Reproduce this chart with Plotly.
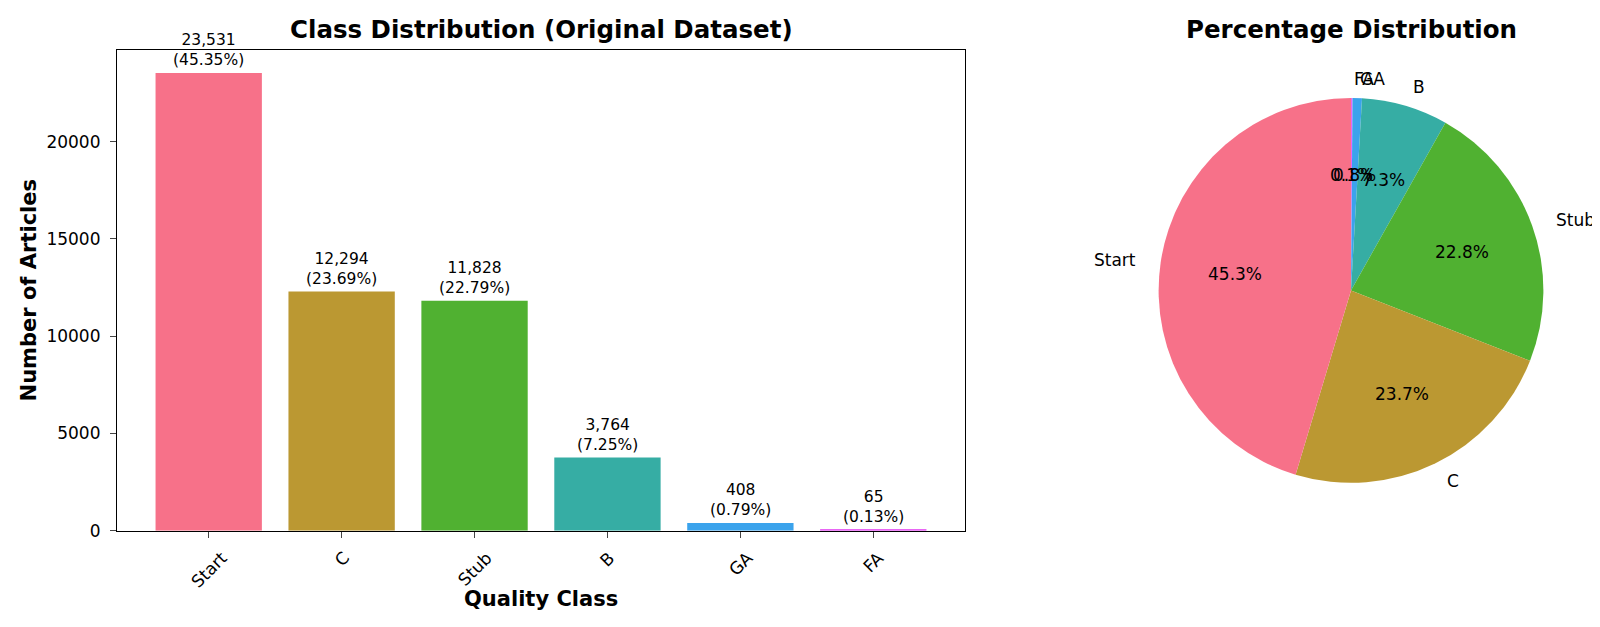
import numpy as np
import plotly.graph_objects as go

W, H = 1600, 627

classes = ["Start", "C", "Stub", "B", "GA", "FA"]
counts = [23531, 12294, 11828, 3764, 408, 65]
colors = ["#f77189", "#bb9832", "#50b131", "#36ada4", "#3ba3ec", "#e866f4"]
y_ticks = [0, 5000, 10000, 15000, 20000]

total = sum(counts)
pcts = [c / total * 100 for c in counts]

FONT = "DejaVu Sans"

# pixel boxes of the two panels (left, top, right, bottom)
bar_box = (109, 42.7, 957, 531.3)
pie_cx, pie_cy, pie_r = 1343, 287, 195.5


def px(x):
    return x / W


def py(y):
    return 1 - y / H


fig = go.Figure()

fig.add_trace(go.Bar(
    x=classes, y=counts, width=0.8,
    marker=dict(color=colors, line=dict(width=0)),
    xaxis="x", yaxis="y", showlegend=False, hoverinfo="x+y",
))

# slices listed in reverse and drawn clockwise from 12 o'clock
# == matplotlib startangle=90, counterclockwise
fig.add_trace(go.Pie(
    labels=classes[::-1], values=counts[::-1], sort=False,
    direction="clockwise", rotation=0,
    marker=dict(colors=colors[::-1], line=dict(width=0)),
    textinfo="none", showlegend=False,
    domain=dict(x=[px(pie_cx - pie_r), px(pie_cx + pie_r)],
                y=[py(pie_cy + pie_r), py(pie_cy - pie_r)]),
))

ann = []

# value labels above bars
for c, v, p in zip(classes, counts, pcts):
    ann.append(dict(x=c, y=v, xref="x", yref="y", text=f"{v:,}<br>({p:.2f}%)",
                    showarrow=False, yanchor="bottom", yshift=2,
                    font=dict(family=FONT, size=15.5, color="black")))

# rotated category labels
for c in classes:
    ann.append(dict(x=c, y=0, xref="x", yref="y", text=c, textangle=-45,
                    showarrow=False, xanchor="center", yanchor="top", yshift=-14,
                    font=dict(family=FONT, size=17, color="black")))

# pie labels and percentages (matplotlib style: labels at 1.1r, pct at 0.6r)
cum = np.cumsum([0] + pcts[:-1])
for c, p, s in zip(classes, pcts, cum):
    ang = np.deg2rad(90 + 3.6 * (s + p / 2))
    lx = pie_cx + 1.1 * pie_r * np.cos(ang)
    ly = pie_cy - 1.1 * pie_r * np.sin(ang)
    ann.append(dict(x=px(lx), y=py(ly), xref="paper", yref="paper", text=c,
                    showarrow=False, xanchor="left" if np.cos(ang) > 0 else "right",
                    yanchor="middle",
                    font=dict(family=FONT, size=17, color="black")))
    tx = pie_cx + 0.6 * pie_r * np.cos(ang)
    ty = pie_cy - 0.6 * pie_r * np.sin(ang)
    ann.append(dict(x=px(tx), y=py(ty), xref="paper", yref="paper", text=f"{p:.1f}%",
                    showarrow=False, xanchor="center", yanchor="middle",
                    font=dict(family=FONT, size=17, color="black")))

# titles and axis titles
title_y = py(bar_box[1] - 4)
ann.append(dict(x=px((bar_box[0] + bar_box[2]) / 2), y=title_y, xref="paper", yref="paper",
                text="<b>Class Distribution (Original Dataset)</b>", showarrow=False,
                xanchor="center", yanchor="bottom",
                font=dict(family=FONT, size=24.5, color="black")))
ann.append(dict(x=px(pie_cx), y=title_y, xref="paper", yref="paper",
                text="<b>Percentage Distribution</b>", showarrow=False,
                xanchor="center", yanchor="bottom",
                font=dict(family=FONT, size=24.5, color="black")))
ann.append(dict(x=px((bar_box[0] + bar_box[2]) / 2), y=py(601), xref="paper", yref="paper",
                text="<b>Quality Class</b>", showarrow=False,
                xanchor="center", yanchor="middle",
                font=dict(family=FONT, size=21, color="black")))
ann.append(dict(x=px(21), y=py((bar_box[1] + bar_box[3]) / 2), xref="paper", yref="paper",
                text="<b>Number of Articles</b>", showarrow=False, textangle=-90,
                xanchor="center", yanchor="middle",
                font=dict(family=FONT, size=21, color="black")))

fig.update_layout(
    width=W, height=H,
    margin=dict(l=0, r=0, t=0, b=0),
    paper_bgcolor="white", plot_bgcolor="white",
    font=dict(family=FONT, color="black"),
    xaxis=dict(domain=[px(bar_box[0]), px(bar_box[2])], range=[-0.69, 5.69],
               showticklabels=False, ticks="outside", ticklen=6, tickwidth=1.3,
               tickcolor="#444", showline=True, linecolor="black", linewidth=1.2,
               mirror=True, showgrid=False, zeroline=False),
    yaxis=dict(domain=[py(bar_box[3]), py(bar_box[1])], range=[0, max(counts) * 1.05],
               tickvals=y_ticks, tickformat="d", ticks="outside", ticklen=6, tickwidth=1.3,
               tickcolor="#444", tickfont=dict(family=FONT, size=17, color="black"),
               ticklabelstandoff=6,
               showline=True, linecolor="black", linewidth=1.2, mirror=True,
               showgrid=False, zeroline=False),
    annotations=ann,
)

fig.write_html("out.html")
